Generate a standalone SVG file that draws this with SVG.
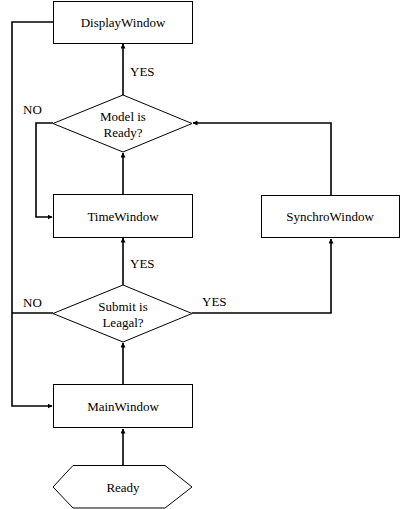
<svg xmlns="http://www.w3.org/2000/svg" width="400" height="509" viewBox="0 0 400 509">
<style>
.box{fill:#fff;stroke:#000;stroke-width:1}
.t{font-family:"Liberation Serif","Times New Roman",serif;font-size:13px;fill:#000}
.m{text-anchor:middle}
.c{fill:none;stroke:#000;stroke-width:1.6}
</style>
<defs>
<marker id="a" viewBox="0 0 10 10" refX="9" refY="5" markerWidth="5" markerHeight="5" orient="auto" markerUnits="userSpaceOnUse">
<path d="M0,0 L10,5 L0,10 z" fill="#000"/>
</marker>
</defs>
<rect width="400" height="509" fill="#fff"/>
<g id="connectors">
<path class="c" d="M53,22 H12 V406 H52" marker-end="url(#a)"/>
<path class="c" d="M123,95 V44" marker-end="url(#a)"/>
<path class="c" d="M53,123 H36 V217 H52" marker-end="url(#a)"/>
<path class="c" d="M123,194 V153" marker-end="url(#a)"/>
<path class="c" d="M331,195 V123 H193" marker-end="url(#a)"/>
<path class="c" d="M192,313 H331 V239" marker-end="url(#a)"/>
<path class="c" d="M123,285 V238" marker-end="url(#a)"/>
<path class="c" d="M53,313 H12"/>
<path class="c" d="M123,384 V343" marker-end="url(#a)"/>
<path class="c" d="M123,465 V429" marker-end="url(#a)"/>
<text class="t" x="130" y="76">YES</text>
<text class="t" x="23" y="114">NO</text>
<text class="t" x="130" y="268">YES</text>
<text class="t" x="23" y="307">NO</text>
<text class="t" x="202" y="306">YES</text>
</g>
<g id="display"><rect class="box" x="53.5" y="1.5" width="139" height="42"/><text class="t m" x="123" y="27">DisplayWindow</text></g>
<g id="model"><polygon class="box" points="123,95 192,123.5 123,152 53,123.5"/><text class="t m" x="123" y="121">Model is</text><text class="t m" x="123" y="137">Ready?</text></g>
<g id="time"><rect class="box" x="53.5" y="194.5" width="139" height="43"/><text class="t m" x="123" y="221">TimeWindow</text></g>
<g id="synchro"><rect class="box" x="261.5" y="195.5" width="138" height="42"/><text class="t m" x="330" y="221">SynchroWindow</text></g>
<g id="submit"><polygon class="box" points="123,285 192,313.5 123,342 53,313.5"/><text class="t m" x="123" y="311">Submit is</text><text class="t m" x="123" y="327">Leagal?</text></g>
<g id="main"><rect class="box" x="53.5" y="384.5" width="139" height="43"/><text class="t m" x="123" y="411">MainWindow</text></g>
<g id="ready"><polygon class="box" points="53,487 73,465.5 165,465.5 192,487 165,508 73,508"/><text class="t m" x="123" y="492">Ready</text></g>
</svg>
